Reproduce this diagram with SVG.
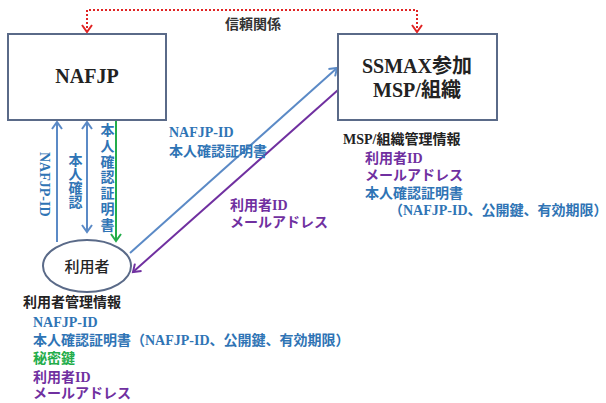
<svg xmlns="http://www.w3.org/2000/svg" width="606" height="403" viewBox="0 0 606 403">
<defs>
<style>
.box{fill:#fff;stroke:#5a6a88;stroke-width:2}
.t{font-family:"Liberation Serif","Noto Sans CJK JP",serif;font-weight:bold}
.j{font-family:"Noto Sans CJK JP","Liberation Sans",sans-serif;font-weight:bold}
.blue{fill:#2f74b5}
.purple{fill:#7030a0}
.green{fill:#23ad4a}
.black{fill:#222}
.ln{fill:none;stroke-width:2}
</style>
<marker id="aB" markerWidth="12" markerHeight="12" refX="9" refY="6" orient="auto-start-reverse" markerUnits="userSpaceOnUse"><path d="M2,1 L9,6 L2,11" fill="none" stroke="#5b8ac6" stroke-width="2"/></marker>
<marker id="aG" markerWidth="12" markerHeight="12" refX="9" refY="6" orient="auto-start-reverse" markerUnits="userSpaceOnUse"><path d="M2,1 L9,6 L2,11" fill="none" stroke="#23ad4a" stroke-width="2"/></marker>
<marker id="aP" markerWidth="12" markerHeight="12" refX="9" refY="6" orient="auto-start-reverse" markerUnits="userSpaceOnUse"><path d="M2,1 L9,6 L2,11" fill="none" stroke="#7030a0" stroke-width="2"/></marker>
<marker id="aR" markerWidth="12" markerHeight="12" refX="9" refY="6" orient="auto-start-reverse" markerUnits="userSpaceOnUse"><path d="M2,1 L9,6 L2,11" fill="none" stroke="#e02424" stroke-width="2"/></marker>
</defs>

<g id="connectors">
<path d="M87,32 V10 H417 V32" fill="none" stroke="#e02424" stroke-width="2" stroke-dasharray="2,2" marker-start="url(#aR)" marker-end="url(#aR)"/>
<line x1="57" y1="242" x2="57" y2="122" class="ln" stroke="#5b8ac6" marker-end="url(#aB)"/>
<line x1="87" y1="232" x2="87" y2="122" class="ln" stroke="#5b8ac6" marker-start="url(#aB)" marker-end="url(#aB)"/>
<line x1="116" y1="121" x2="116" y2="241" class="ln" stroke="#23ad4a" marker-end="url(#aG)"/>
<line x1="130" y1="253" x2="337" y2="68" class="ln" stroke="#5b8ac6" marker-end="url(#aB)"/>
<line x1="338" y1="90" x2="133" y2="272" class="ln" stroke="#7030a0" marker-end="url(#aP)"/>
</g>

<g id="trust-label"><text x="253" y="29" class="j" font-size="14" fill="#333" text-anchor="middle">信頼関係</text></g>

<g id="nafjp">
<rect x="8" y="34" width="158" height="86" class="box"/>
<text x="87" y="83" class="t black" font-size="20" text-anchor="middle">NAFJP</text>
</g>

<g id="ssmax">
<rect x="338" y="34" width="159" height="86" class="box"/>
<text x="417" y="73" class="t black" font-size="20" text-anchor="middle">SSMAX参加</text>
<text x="417" y="97" class="t black" font-size="20" text-anchor="middle">MSP/組織</text>
</g>

<g id="user">
<ellipse cx="87" cy="266" rx="44" ry="26" fill="#fff" stroke="#5a6a88" stroke-width="2"/>
<text x="87" y="272" class="j black" font-size="15" text-anchor="middle" style="font-weight:500">利用者</text>
</g>

<g id="vertical-labels">
<text x="44" y="152" class="t blue" font-size="14" writing-mode="vertical-rl">NAFJP-ID</text>
<text x="74" y="153" class="t blue" font-size="14" writing-mode="vertical-rl">本人確認</text>
<text x="106" y="123" class="t blue" font-size="14" writing-mode="vertical-rl" letter-spacing="1.7">本人確認証明書</text>
</g>

<g id="diag-labels">
<text x="169" y="137" class="t blue" font-size="14">NAFJP-ID</text>
<text x="169" y="156" class="t blue" font-size="14">本人確認証明書</text>
<text x="230" y="210" class="t purple" font-size="14">利用者ID</text>
<text x="230" y="227" class="t purple" font-size="14">メールアドレス</text>
</g>

<g id="msp-info">
<text x="343" y="144" class="t black" font-size="14">MSP/組織管理情報</text>
<text x="365" y="163" class="t purple" font-size="14">利用者ID</text>
<text x="365" y="180" class="t purple" font-size="14">メールアドレス</text>
<text x="365" y="198" class="t blue" font-size="14">本人確認証明書</text>
<text x="389" y="215" class="t blue" font-size="14">（NAFJP-ID、公開鍵、有効期限）</text>
</g>

<g id="user-info">
<text x="23" y="307" class="t black" font-size="14">利用者管理情報</text>
<text x="33" y="327" class="t blue" font-size="14">NAFJP-ID</text>
<text x="33" y="345" class="t blue" font-size="14">本人確認証明書（NAFJP-ID、公開鍵、有効期限）</text>
<text x="33" y="363" class="t green" font-size="14">秘密鍵</text>
<text x="33" y="382" class="t purple" font-size="14">利用者ID</text>
<text x="33" y="398" class="t purple" font-size="14">メールアドレス</text>
</g>
</svg>
